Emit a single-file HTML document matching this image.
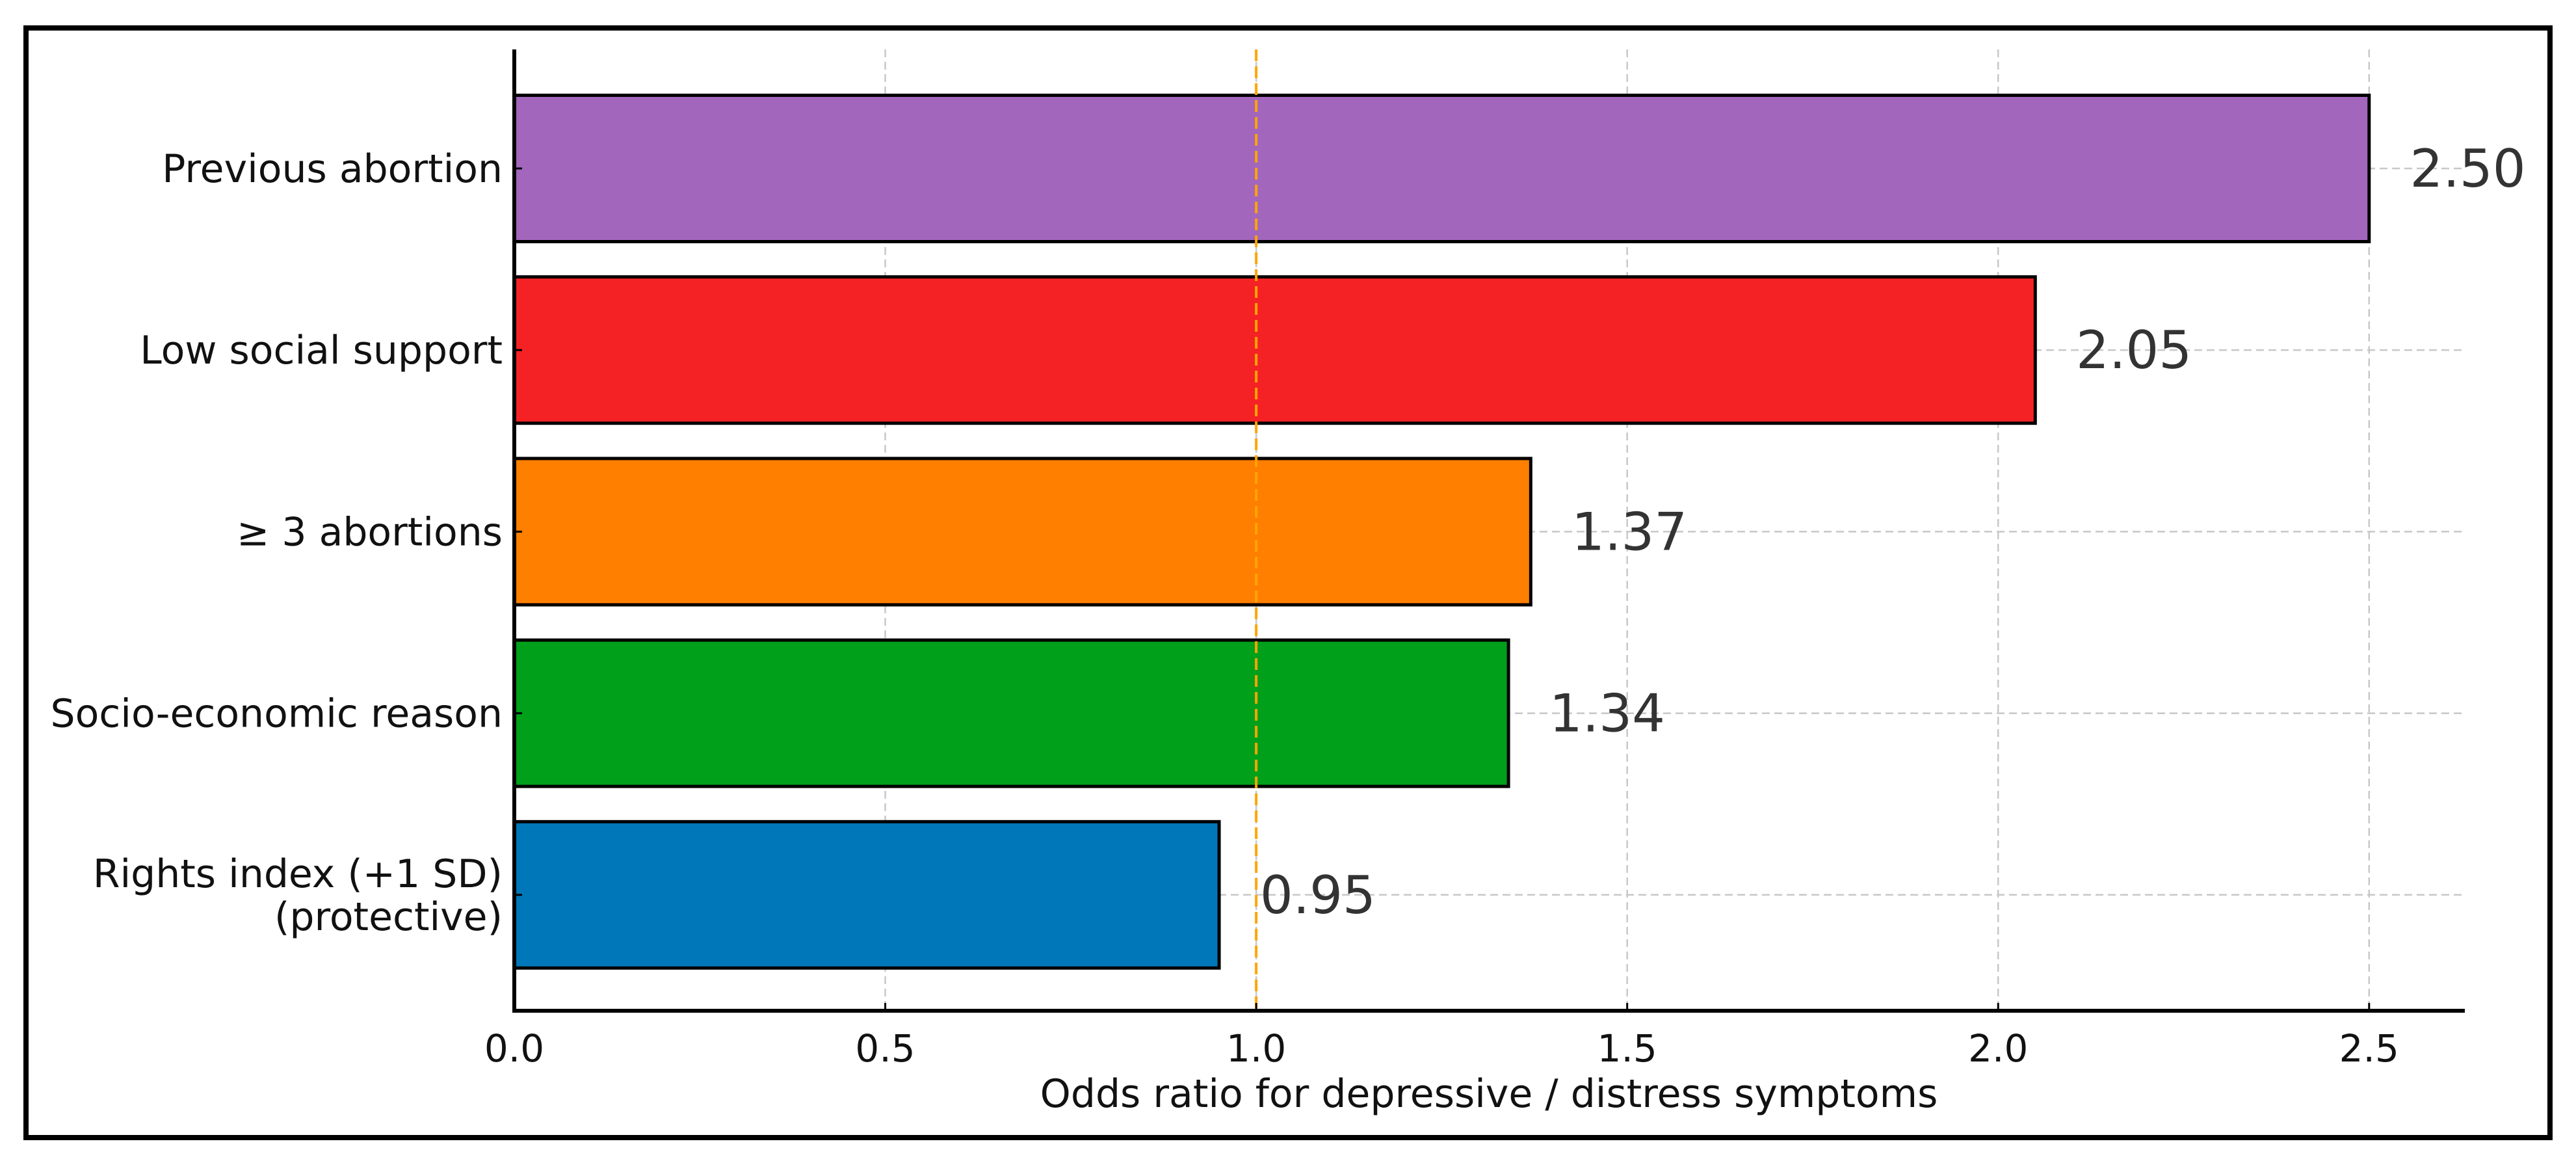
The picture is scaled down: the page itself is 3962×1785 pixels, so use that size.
<!DOCTYPE html>
<html><head><meta charset="utf-8"><style>
html,body{margin:0;padding:0;background:#fff;}
svg{display:block;font-family:"DejaVu Sans","Liberation Sans",sans-serif;}
</style></head><body>
<svg id="chart" width="3962" height="1785" viewBox="0 0 3962 1785" xmlns="http://www.w3.org/2000/svg">
<rect x="0" y="0" width="3962" height="1785" fill="#fff"/>
<rect x="40" y="43" width="3882" height="1706" fill="none" stroke="#000" stroke-width="8"/>
<g id="grid"></g>
<g id="bars"></g>
<g id="axes"></g>
</svg>
<script>
const categories = ["Previous abortion","Low social support","\u2265 3 abortions","Socio-economic reason","Rights index (+1 SD)|(protective)"];
const values = [2.50, 2.05, 1.37, 1.34, 0.95];
const valueLabels = ["2.50","2.05","1.37","1.34","0.95"];
const colors = ["#a366bd","#f52225","#ff7f00","#00a01a","#0077b8"];
const xTicks = [0, 0.5, 1.0, 1.5, 2.0, 2.5];
const xTickLabels = ["0.0","0.5","1.0","1.5","2.0","2.5"];
const refValue = 1.0;

const NS = "http://www.w3.org/2000/svg";
const L = 791, R = 3791, T = 76, B = 1554;
const xMax = 2.629;
const x = v => L + v / xMax * (R - L);
const firstC = 259, step = 279.2, barH = 225;
const y = i => firstC + i * step;
function mk(tag, attrs, parent) {
  const e = document.createElementNS(NS, tag);
  for (const k in attrs) e.setAttribute(k, attrs[k]);
  parent.appendChild(e);
  return e;
}
const grid = document.getElementById('grid');
const bars = document.getElementById('bars');
const axes = document.getElementById('axes');

xTicks.forEach((t, i) => {
  const g = mk('line', {x1: x(t), x2: x(t), y1: T, y2: B, stroke: '#c8c8c8', 'stroke-width': 2.5, 'stroke-dasharray': '12,7'}, grid);
  
  
});
categories.forEach((c, i) => {
  const g = mk('line', {x1: L, x2: R, y1: y(i), y2: y(i), stroke: '#c8c8c8', 'stroke-width': 2.5, 'stroke-dasharray': '12,7'}, grid);
  
  
});

categories.forEach((c, i) => {
  const r = mk('rect', {x: x(0), y: y(i) - barH / 2, width: x(values[i]) - x(0), height: barH, fill: colors[i], stroke: '#000', 'stroke-width': 5}, bars);
  
  
  const t = mk('text', {x: x(values[i] + 0.055), y: y(i) + 28, 'font-size': 80, fill: '#333'}, bars);
  t.textContent = valueLabels[i];
  
  
});

const ref = mk('line', {x1: x(refValue), x2: x(refValue), y1: T, y2: B, stroke: '#ffa500', 'stroke-width': 4, 'stroke-dasharray': '18,8'}, axes);



const sp1 = mk('line', {x1: L, x2: L, y1: T, y2: B + 3, stroke: '#000', 'stroke-width': 6}, axes);


const sp2 = mk('line', {x1: L - 3, x2: R, y1: B, y2: B, stroke: '#000', 'stroke-width': 6}, axes);



xTicks.forEach((t, i) => {
  const tk = mk('line', {x1: x(t), x2: x(t), y1: B, y2: B - 12, stroke: '#000', 'stroke-width': 3}, axes);
  
  
  const lb = mk('text', {x: x(t), y: B + 78, 'font-size': 58, 'text-anchor': 'middle', fill: '#111'}, axes);
  lb.textContent = xTickLabels[i];
  
  
});

categories.forEach((c, i) => {
  const tk = mk('line', {x1: L, x2: L + 12, y1: y(i), y2: y(i), stroke: '#000', 'stroke-width': 3}, axes);
  
  
  const lines = c.split('|');
  const lh = 66;
  const y0 = y(i) + 21 - (lines.length - 1) * lh / 2;
  lines.forEach((ln, j) => {
    const lb = mk('text', {x: L - 18, y: y0 + j * lh, 'font-size': 60, 'text-anchor': 'end', fill: '#111'}, axes);
    lb.textContent = ln;
    
    
  });
});

const xt = mk('text', {x: 2290, y: 1702, 'font-size': 60, 'text-anchor': 'middle', fill: '#111'}, axes);
xt.textContent = 'Odds ratio for depressive / distress symptoms';


</script>
</body></html>
